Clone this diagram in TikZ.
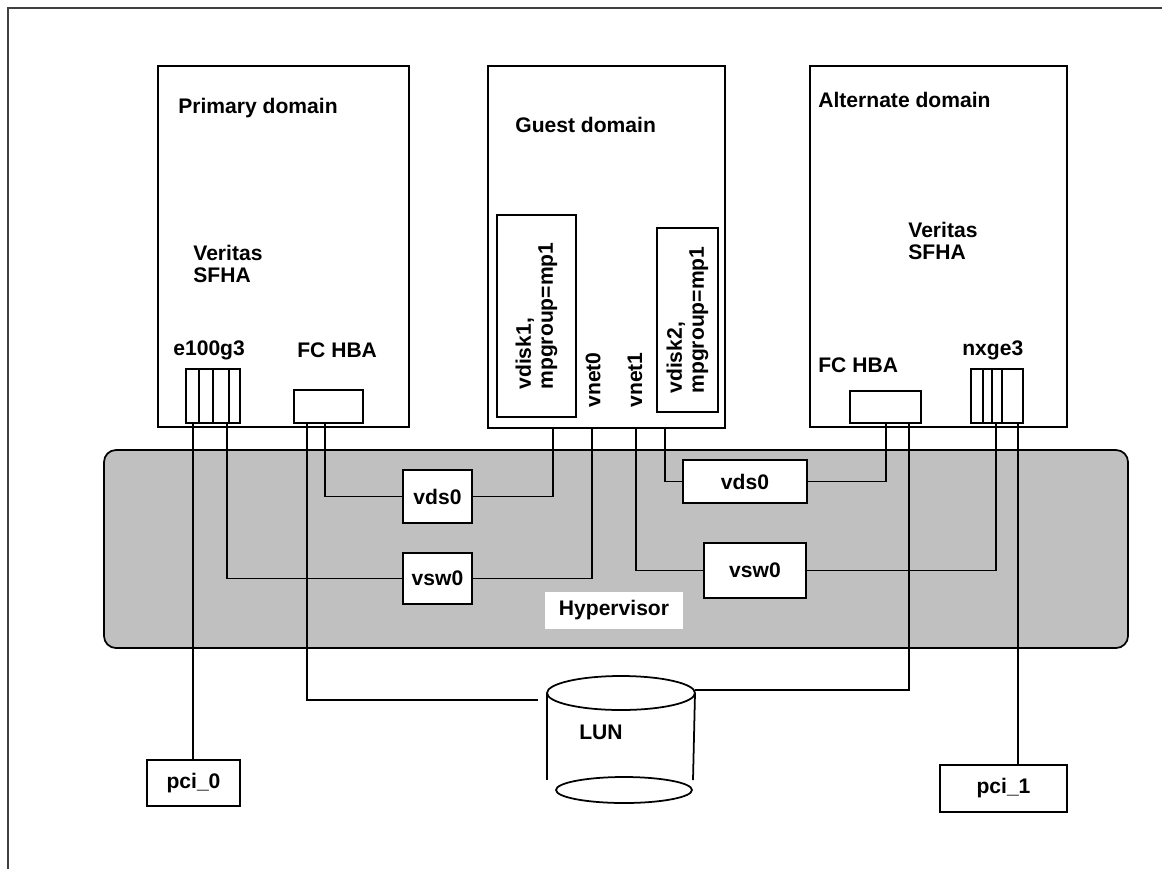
\documentclass[tikz,border=0pt]{standalone}
\usepackage{fontspec}
\setmainfont{Liberation Sans}
\usepackage{tikz}
\usetikzlibrary{calc}
\definecolor{hvgray}{HTML}{C0C0C0}
\tikzset{
  txt/.style={font=\fontsize{12}{12.5}\selectfont\bfseries, inner sep=0pt},
  dombox/.style={draw, fill=white, line width=1pt, inner sep=0pt},
  vbox/.style={draw, fill=white, line width=1pt, txt},
  port/.style={draw, fill=white, line width=1pt, inner sep=0pt},
  wire/.style={line width=1pt}
}

\begin{document}
\begin{tikzpicture}[x=0.02cm, y=-0.02cm]
        \useasboundingbox (0,0) rectangle (1162,869);
        % frame
        \draw[line width=1pt, black!75] (8,869) -- (8,8) -- (1162,8);
        % hypervisor
        \draw[line width=1pt, fill=hvgray, rounded corners=0.24cm] (104,450) rectangle (1128,648);
        \node[txt, fill=white, minimum width=2.78cm, minimum height=0.74cm] (hyp) at (614,610) {Hypervisor};

        % domains
        \node[dombox, anchor=north west, minimum width=5.02cm, minimum height=7.22cm] (prim) at (157,65) {};
        \node[dombox, anchor=north west, minimum width=4.74cm, minimum height=7.24cm] (guest) at (487,65) {};
        \node[dombox, anchor=north west, minimum width=5.14cm, minimum height=7.22cm] (alt) at (809,65) {};
        \node[txt, anchor=west] (primT) at (178,108) {Primary domain};
        \node[txt, anchor=west] (guestT) at (515,125) {Guest domain};
        \node[txt, anchor=west] (altT) at (818,100) {Alternate domain};
        \node[txt, anchor=west, align=left] (sfhaP) at (193,264) {Veritas\\SFHA};
        \node[txt, anchor=west, align=left] (sfhaA) at (908,241) {Veritas\\SFHA};

        % ports
        \node[txt, anchor=west] (ethT) at (173,350) {e100g3};
        \node[txt, anchor=west] (hbaPT) at (297,350) {FC HBA};
        \node[txt, anchor=west] (hbaAT) at (818,365) {FC HBA};
        \node[txt, anchor=west] (nxgT) at (962,350) {nxge3};
        \node[port, anchor=south west, minimum width=1.08cm, minimum height=1.08cm] (ethP) at (185,424) {};
        \foreach \dx in {14,28,44} \draw[wire] (ethP.north west) ++(\dx,0) -- ++(0,54);
        \node[port, anchor=south west, minimum width=1.38cm, minimum height=0.66cm] (hbaP) at (293,424) {};
        \node[port, anchor=south west, minimum width=1.42cm, minimum height=0.64cm] (hbaA) at (849,424) {};
        \node[port, anchor=south west, minimum width=1.04cm, minimum height=1.08cm] (nxgP) at (970,424) {};
        \foreach \dx in {13,22,32} \draw[wire] (nxgP.north west) ++(\dx,0) -- ++(0,54);

        % guest disks and nets
        \node[vbox, rotate=90, align=left, minimum width=4.04cm, minimum height=1.58cm] (vdisk1) at (536.5,316) {vdisk1,\\mpgroup=mp1};
        \node[vbox, rotate=90, align=left, minimum width=3.68cm, minimum height=1.22cm] (vdisk2) at (687.5,320) {vdisk2,\\mpgroup=mp1};
        \node[txt, rotate=90] (vnet0) at (593,380) {vnet0};
        \node[txt, rotate=90] (vnet1) at (635,380) {vnet1};

        % virtual services
        \node[vbox, minimum width=1.38cm, minimum height=1.06cm] (vdsA) at (437.5,496.5) {vds0};
        \node[vbox, minimum width=1.38cm, minimum height=1.02cm] (vswA) at (437.5,578.5) {vsw0};
        \node[vbox, minimum width=2.48cm, minimum height=0.86cm] (vdsB) at (745,481.5) {vds0};
        \node[vbox, minimum width=2.04cm, minimum height=1.1cm] (vswB) at (755,570.5) {vsw0};

        % io
        \node[vbox, minimum width=1.86cm, minimum height=0.92cm] (pci0) at (193.5,783) {pci\_0};
        \node[vbox, minimum width=2.54cm, minimum height=0.94cm] (pci1) at (1003.5,788.5) {pci\_1};

        % LUN
        \draw[wire] (621,693) ellipse [x radius=74, y radius=17];
        \draw[wire] (547,693) -- (547,780);
        \draw[wire] (695,693) -- (693,780);
        \draw[wire] (624,790) ellipse [x radius=68, y radius=13];
        \node[txt] (lunT) at (601,732) {LUN};
        \coordinate (lunL) at (538,700);
        \coordinate (lunR) at (695,690);

        % taps
        \coordinate (e1) at ([xshift=0.16cm]ethP.south west);
        \coordinate (e2) at ([xshift=0.84cm]ethP.south west);
        \coordinate (f1) at ([xshift=0.28cm]hbaP.south west);
        \coordinate (f2) at ([xshift=0.64cm]hbaP.south west);
        \coordinate (g1) at ([xshift=1.32cm]guest.south west);
        \coordinate (g2) at ([xshift=2.1cm]guest.south west);
        \coordinate (g3) at ([xshift=2.98cm]guest.south west);
        \coordinate (g4) at ([xshift=3.56cm]guest.south west);
        \coordinate (a1) at ([xshift=0.74cm]hbaA.south west);
        \coordinate (a2) at ([xshift=1.2cm]hbaA.south west);
        \coordinate (n1) at ([xshift=0.52cm]nxgP.south west);
        \coordinate (n2) at ([xshift=0.96cm]nxgP.south west);

        \draw[wire] (e1) -- (e1 |- pci0.north);
        \draw[wire] (e2) |- (vswA.west);
        \draw[wire] (f1) |- (lunL);
        \draw[wire] (f2) |- (vdsA.west);
        \draw[wire] (g1) |- (vdsA.east);
        \draw[wire] (g2) |- (vswA.east);
        \draw[wire] (g3) |- (vswB.west);
        \draw[wire] (g4) |- (vdsB.west);
        \draw[wire] (a1) |- (vdsB.east);
        \draw[wire] (a2) |- (lunR);
        \draw[wire] (n1) |- (vswB.east);
        \draw[wire] (n2) -- (n2 |- pci1.north);
    \end{tikzpicture}
\end{document}
